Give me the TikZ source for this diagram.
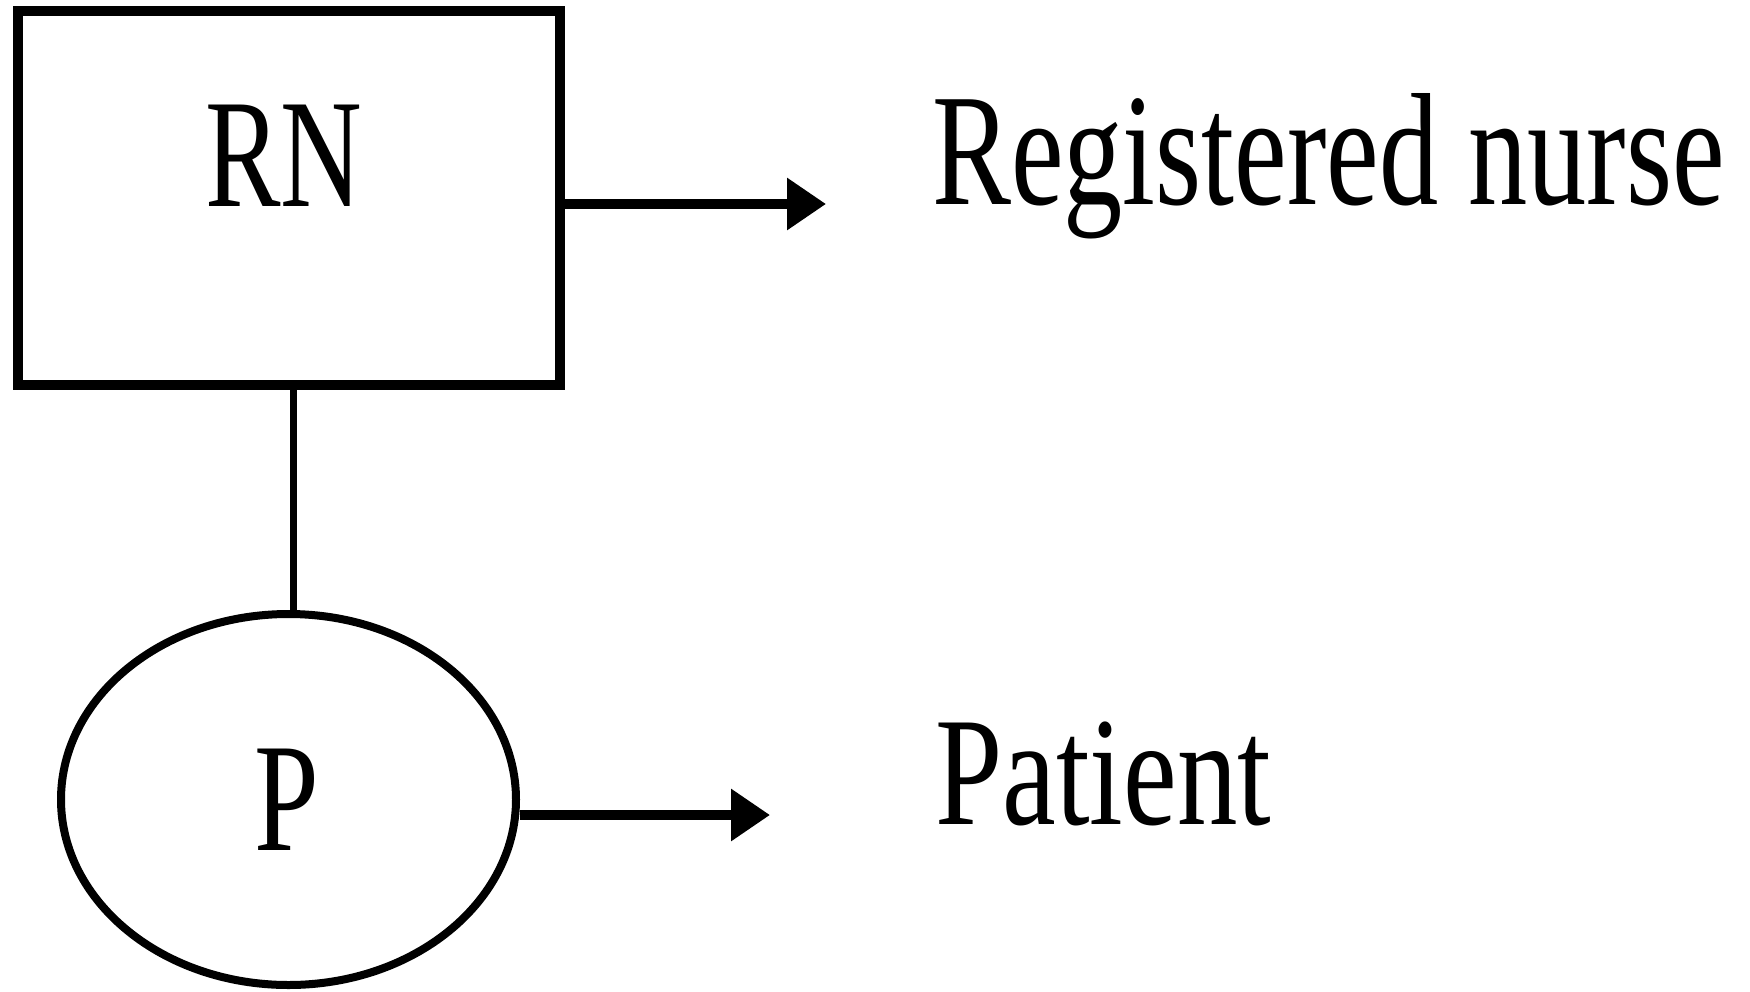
\documentclass[tikz,border=0pt]{standalone}
\usepackage{fontspec}
\setmainfont{Liberation Serif}
\usetikzlibrary{shapes.geometric,arrows.meta}
\tikzset{
  boxshape/.style={draw, line width=10pt, minimum width=542pt, minimum height=374pt, inner sep=0pt},
  ellshape/.style={draw, ellipse, line width=8pt, minimum width=455pt, minimum height=371pt, inner sep=0pt},
  txt/.style={inner sep=0pt, font=\fontsize{155}{155}\selectfont},
  arr/.style={line width=9.5pt, -{Triangle[length=39pt, width=50pt]}},
  conn/.style={line width=7pt}
}
\begin{document}
\begin{tikzpicture}[x=1pt,y=-1pt]
\useasboundingbox (0,0) rectangle (1750,991);
\node[boxshape] (rn) at (289,198) {};
\node[txt, anchor=base] (rnt) at (284,206) {\scalebox{0.73}[1]{RN}};
\node[ellshape] (p) at (288.5,799.5) {};
\node[txt, anchor=base] (pt) at (287,850) {\scalebox{0.75}[1]{P}};
\coordinate (e1) at (826,204);
\coordinate (e2) at (770,815);
\node[txt, anchor=base west, font=\fontsize{160}{160}\selectfont] (rnlab) at (932,204) {\scalebox{0.74}[1]{Registered nurse}};
\node[txt, anchor=base west] (plab) at (935,824) {\scalebox{0.78}[1]{Patient}};
\draw[arr] (rn.east |- e1) -- (e1);
\draw[arr] (p.east |- e2) -- (e2);
\draw[conn] (rn.south -| 293.5,0) -- (p.north -| 293.5,0);
\end{tikzpicture}
\end{document}
